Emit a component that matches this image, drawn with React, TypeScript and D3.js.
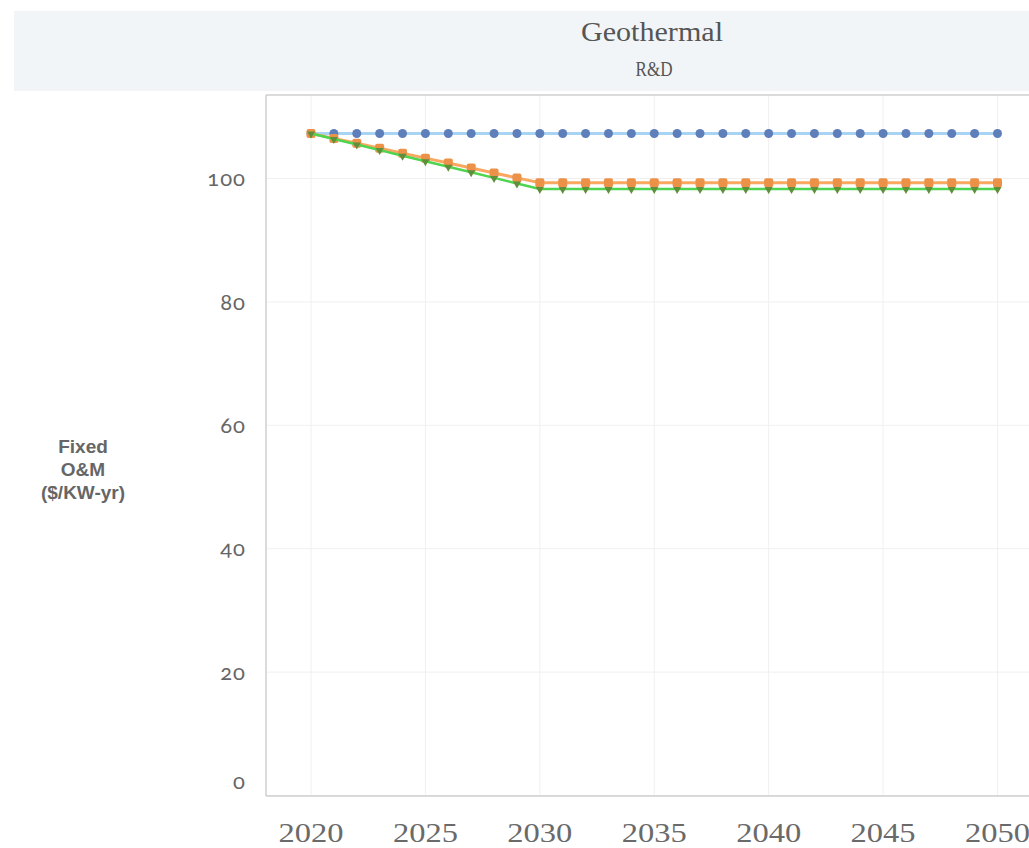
import React from "react";
import * as d3 from "d3";

const years: number[] = [2020,2021,2022,2023,2024,2025,2026,2027,2028,2029,2030,2031,2032,2033,2034,2035,2036,2037,2038,2039,2040,2041,2042,2043,2044,2045,2046,2047,2048,2049,2050];
const baseline: number[] = [107.3,107.3,107.3,107.3,107.3,107.3,107.3,107.3,107.3,107.3,107.3,107.3,107.3,107.3,107.3,107.3,107.3,107.3,107.3,107.3,107.3,107.3,107.3,107.3,107.3,107.3,107.3,107.3,107.3,107.3,107.3];
const moderate: number[] = [107.3,106.5,105.7,104.9,104.1,103.3,102.5,101.7,100.9,100.1,99.3,99.3,99.3,99.3,99.3,99.3,99.3,99.3,99.3,99.3,99.3,99.3,99.3,99.3,99.3,99.3,99.3,99.3,99.3,99.3,99.3];
const advanced: number[] = [107.3,106.4,105.5,104.6,103.7,102.8,101.9,101.0,100.1,99.2,98.3,98.3,98.3,98.3,98.3,98.3,98.3,98.3,98.3,98.3,98.3,98.3,98.3,98.3,98.3,98.3,98.3,98.3,98.3,98.3,98.3];
const yTicks: number[] = [0,20,40,60,80,100];
const xTicks: number[] = [2020,2025,2030,2035,2040,2045,2050];

export default function App() {
  const W = 1029, H = 848;
  const left = 266, right = 1029, top = 95, bottom = 796;
  const x = d3.scaleLinear().domain([2020, 2050]).range([311, 997.5]);
  const y = d3.scaleLinear().domain([0, 100]).range([795.5, 178.5]);
  const line = (vals: number[]) =>
    d3.line<number>().x((_, i) => x(years[i])).y((v) => y(v))(vals) || "";
  const oldStyle = "'Lato', 'Open Sans', sans-serif";
  const serif = "'Liberation Serif', 'DejaVu Serif', serif";
  return (
    <svg width={W} height={H} style={{ position: "absolute", left: 0, top: 0, background: "#fff" }}>
      <rect x={0} y={0} width={W} height={H} fill="#fff" />
      <rect x={14} y={11} width={W - 14} height={80} fill="#f2f5f7" />
      <text x={652} y={32} dy="0.35em" textAnchor="middle" fontFamily={serif} fontSize={27} fill="#555" textLength={142} lengthAdjust="spacingAndGlyphs">Geothermal</text>
      <text x={654} y={69} dy="0.35em" textAnchor="middle" fontFamily={serif} fontSize={20} fill="#555" textLength={37} lengthAdjust="spacingAndGlyphs">R&amp;D</text>
      {/* gridlines */}
      {yTicks.map((t) => (
        <line key={"gy" + t} x1={left} x2={right} y1={y(t)} y2={y(t)} stroke="#f0f0f0" strokeWidth={1} />
      ))}
      {xTicks.map((t) => (
        <line key={"gx" + t} x1={x(t)} x2={x(t)} y1={top} y2={bottom} stroke="#f0f0f0" strokeWidth={1} />
      ))}
      {/* frame */}
      <line x1={left} x2={right} y1={top} y2={top} stroke="#cfcfcf" strokeWidth={1.5} />
      <line x1={left} x2={left} y1={top} y2={bottom} stroke="#cfcfcf" strokeWidth={1.5} />
      <line x1={left} x2={right} y1={bottom} y2={bottom} stroke="#cfcfcf" strokeWidth={1.5} />
      {/* y tick labels */}
      {yTicks.map((t) => (
        <text key={"ty" + t} x={246} y={t === 0 ? y(t) - 14 : y(t)} dy="0.35em" textAnchor="end" fontFamily={oldStyle} fontSize={22} fill="#666" style={{ fontVariantNumeric: "oldstyle-nums", letterSpacing: "1px" }}>{t}</text>
      ))}
      {/* x tick labels */}
      {xTicks.map((t) => (
        <text key={"tx" + t} x={x(t)} y={832} dy="0.35em" textAnchor="middle" fontFamily={serif} fontSize={28} fill="#6a6a6a" textLength={65} lengthAdjust="spacingAndGlyphs">{t}</text>
      ))}
      {/* y axis title */}
      <g fontFamily="'Liberation Sans', Arial, sans-serif" fontSize={19} fontWeight="bold" fill="#666" textAnchor="middle">
        <text x={83} y={446} dy="0.35em">Fixed</text>
        <text x={83} y={469} dy="0.35em">O&amp;M</text>
        <text x={83} y={492} dy="0.35em">($/KW-yr)</text>
      </g>
      {/* baseline (blue) */}
      <path d={line(baseline)} fill="none" stroke="#a9d3f3" strokeWidth={3} />
      {baseline.map((v, i) => (
        <circle key={"b" + i} cx={x(years[i])} cy={y(v)} r={4.5} fill="#5f7fba" />
      ))}
      {/* moderate (orange) */}
      <path d={line(moderate)} fill="none" stroke="#f8a860" strokeWidth={3} />
      {moderate.map((v, i) => (
        <rect key={"m" + i} x={x(years[i]) - 4.5} y={y(v) - 4.5} width={9} height={9} rx={2} fill="#ec9148" />
      ))}
      {/* advanced (green) */}
      <path d={line(advanced)} fill="none" stroke="#4fd44f" strokeWidth={2.5} />
      {advanced.map((v, i) => (
        <path key={"a" + i} d={`M${x(years[i]) - 4},${y(v) - 2}L${x(years[i]) + 4},${y(v) - 2}L${x(years[i])},${y(v) + 5}Z`} fill="#5f8f3a" />
      ))}
    </svg>
  );
}
